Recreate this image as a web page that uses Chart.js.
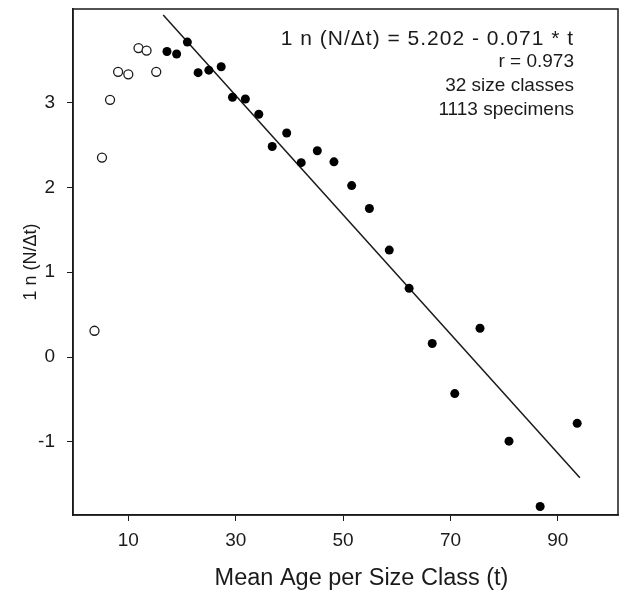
<!DOCTYPE html>
<html>
<head>
  <title>ln(N/dt) vs mean age</title>
  <script src="https://cdn.jsdelivr.net/npm/chart.js"></script>
  <style>
    html, body { margin: 0; padding: 0; background: #fff; }
    .wrap { width: 625px; height: 596px; }
  </style>
</head>
<body>
  <div class="wrap"><canvas id="chart"></canvas></div>

  <script>
    // open circles: youngest size classes, left out of the fit
    const openAge = [3.7, 5.1, 6.6, 8.1, 10.0, 11.9, 13.4, 15.2];
    const openLnN = [0.31, 2.35, 3.03, 3.36, 3.33, 3.64, 3.61, 3.36];

    // filled circles: size classes used for the regression
    const fitAge = [17.2, 19.0, 21.0, 23.0, 25.0, 27.3, 29.4, 31.8, 34.3, 36.8, 39.5, 42.2,
                    45.2, 48.3, 51.6, 54.9, 58.6, 62.3, 66.6, 70.8, 75.5, 80.9, 86.7, 93.6];
    const fitLnN = [3.60, 3.57, 3.71, 3.35, 3.38, 3.42, 3.06, 3.04, 2.86, 2.48, 2.64, 2.29,
                    2.43, 2.30, 2.02, 1.75, 1.26, 0.81, 0.16, -0.43, 0.34, -0.99, -1.76, -0.78];

    // regression line ends, as drawn
    const lineAge = [16.5, 94.1];
    const lineLnN = [4.03, -1.42];

    const xTicks = [10, 30, 50, 70, 90];
    const yTicks = [-1, 0, 1, 2, 3];

    const notes = ['1 n (N/\u0394t) = 5.202 - 0.071 * t', 'r = 0.973', '32 size classes', '1113 specimens'];
    const xTitle = 'Mean Age per Size Class (t)';

    const ink = '#1a1a1a';
    const font = 'Liberation Sans, Arial, Helvetica, sans-serif';

    const toPts = (xs, ys) => xs.map((x, i) => ({ x: x, y: ys[i] }));

    // box round the plot, the fit summary text and the x title (sits a bit right of centre)
    const frame = {
      id: 'frame',
      afterDraw(chart) {
        const { ctx, chartArea: a } = chart;
        ctx.save();
        ctx.strokeStyle = ink;
        ctx.lineWidth = 1.5;
        ctx.strokeRect(a.left, a.top, a.right - a.left, a.bottom - a.top);
        ctx.fillStyle = ink;
        ctx.textAlign = 'right';
        ctx.textBaseline = 'middle';
        const ys = [39, 62, 86, 110];
        notes.forEach((t, i) => {
          ctx.font = (i === 0 ? '21px ' : '19px ') + font;
          ctx.letterSpacing = i === 0 ? '1px' : '0px';
          ctx.fillText(t, a.right - 44, ys[i]);
        });
        ctx.letterSpacing = '0px';
        ctx.textAlign = 'center';
        ctx.font = '23.5px ' + font;
        ctx.fillText(xTitle, (a.left + a.right) / 2 + 16, 579);
        ctx.restore();
      }
    };

    new Chart(document.getElementById('chart'), {
      type: 'scatter',
      data: {
        datasets: [
          {
            label: 'excluded',
            data: toPts(openAge, openLnN),
            pointRadius: 4.5,
            pointBorderWidth: 1.3,
            pointBorderColor: ink,
            pointBackgroundColor: '#fff'
          },
          {
            label: 'fitted',
            data: toPts(fitAge, fitLnN),
            pointRadius: 4.5,
            pointBorderWidth: 0,
            pointBackgroundColor: '#000'
          },
          {
            type: 'line',
            label: 'fit',
            data: toPts(lineAge, lineLnN),
            borderColor: ink,
            borderWidth: 1.5,
            pointRadius: 0,
            fill: false
          }
        ]
      },
      options: {
        responsive: true,
        maintainAspectRatio: false,
        animation: false,
        layout: { padding: { top: 9, right: 7, left: 0, bottom: 0 } },
        plugins: { legend: { display: false }, tooltip: { enabled: false } },
        scales: {
          x: {
            type: 'linear',
            min: -0.3,
            max: 101.2,
            afterBuildTicks: s => { s.ticks = xTicks.map(v => ({ value: v })); },
            afterFit: s => { s.height = 81; s.paddingLeft = 0; s.paddingRight = 0; },
            grid: { drawOnChartArea: false, color: ink, tickLength: 6 },
            border: { color: ink, width: 1.5 },
            ticks: { color: ink, font: { size: 19, family: font }, padding: 8 },
            title: { display: false }
          },
          y: {
            type: 'linear',
            min: -1.86,
            max: 4.10,
            afterBuildTicks: s => { s.ticks = yTicks.map(v => ({ value: v })); },
            afterFit: s => { s.width = 73; s.paddingTop = 0; s.paddingBottom = 0; },
            grid: { drawOnChartArea: false, color: ink, tickLength: 6 },
            border: { color: ink, width: 1.5 },
            ticks: { color: ink, font: { size: 19, family: font }, padding: 12 },
            title: { display: true, text: '1 n (N/\u0394t)', color: ink,
                     font: { size: 18, family: font }, padding: { top: 20, bottom: 0 } }
          }
        }
      },
      plugins: [frame]
    });
  </script>
</body>
</html>
